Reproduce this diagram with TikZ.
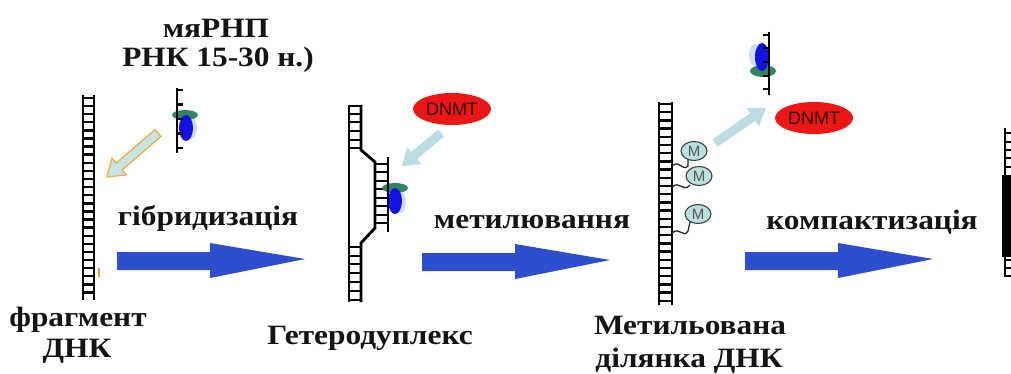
\documentclass[tikz,border=0pt]{standalone}
\usepackage{fontspec}
\setmainfont{Liberation Serif}
\newfontfamily\enzfont{Liberation Sans}
\usetikzlibrary{shapes.geometric,calc}

\definecolor{bigblue}{RGB}{46,78,208}
\definecolor{paleblue}{RGB}{186,220,226}
\definecolor{orangeedge}{RGB}{240,172,70}
\definecolor{enzred}{RGB}{236,22,22}
\definecolor{enztext}{RGB}{48,6,6}
\definecolor{rnpgreen}{RGB}{52,132,96}
\definecolor{rnpblue}{RGB}{18,18,228}
\definecolor{rnphalo}{RGB}{205,222,242}
\definecolor{mfill}{RGB}{186,224,224}

% wide bold serif label
\newcommand{\widetext}[1]{\scalebox{1.12}[1]{#1}}

% flat block arrow: #1 style, #2 tail, #3 tip, #4 shaft half width
\newcommand{\flatarrow}[4]{%
  \coordinate (fa-t1) at ($(#2)!#4!90:(#3)$);
  \coordinate (fa-t2) at ($(#2)!#4!-90:(#3)$);
  \coordinate (fa-b)  at ($(#3)!16pt!(#2)$);
  \coordinate (fa-b1) at ($(fa-b)!#4!-90:(#2)$);
  \coordinate (fa-b2) at ($(fa-b)!#4!90:(#2)$);
  \coordinate (fa-h1) at ($(fa-b)!11pt!-90:(#2)$);
  \coordinate (fa-h2) at ($(fa-b)!11pt!90:(#2)$);
  \path[#1] (fa-t1) -- (fa-b1) -- (fa-h1) -- (#3) -- (fa-h2) -- (fa-b2) -- (fa-t2) -- cycle;
}

% big process arrow starting at the middle of its left end
\newcommand{\procarrow}[1]{%
  \fill[bigblue, shift={(#1)}] (0,-9) -- (93,-9) -- (93,-18) -- (188,-2)
     -- (93,17) -- (93,9) -- (0,9) -- cycle;
}

\tikzset{
  rail/.style={line width=2.9pt, black},
  rung/.style={line width=2.4pt, black},
  strand/.style={line width=2.6pt, black},
  lbl/.style={font=\bfseries\fontsize{28}{30}\selectfont, anchor=base, inner sep=0pt, text=black!92},
  enzyme/.style={ellipse, fill=enzred, inner sep=0pt, minimum width=78pt, minimum height=32pt,
                 font=\enzfont\fontsize{18}{18}\selectfont, text=enztext},
  mgroup/.style={ellipse, draw=black!75, fill=mfill, line width=1.1pt, inner sep=0pt,
                 minimum width=26pt, minimum height=19pt,
                 font=\enzfont\fontsize{15}{15}\selectfont, text=black!65},
  tether/.style={line width=1.3pt, black!85},
}

\begin{document}
\begin{tikzpicture}[x=1pt, y=-1pt]
\useasboundingbox (0,0) rectangle (1011,374);

% ---------- miRNP complex ----------
\node[lbl] (rnp1) at (216,38) {\widetext{мяРНП}};
\node[lbl] (rnp2) at (218,67) {\widetext{РНК 15-30 н.)}};

\fill[rnphalo] (191,128) ellipse (6pt and 11pt);
\fill[rnpgreen] (185,115) ellipse (13pt and 5pt);
\fill[rnpblue] (186,128) ellipse (7pt and 13pt);
\draw[strand] (177,88) -- (177,153);
\foreach \yy in {90,104.5,119,133.5,148}
  \draw[line width=2.2pt] (177,\yy) -- (183,\yy);

% ---------- DNA fragment ----------
\draw[rail] (83,95) -- (83,300);
\draw[rail] (94,95) -- (94,300);
\foreach \yy in {98,106.1,...,295}
  \draw[rung] (83,\yy) -- (94,\yy);
\draw[line width=1.3pt, orangeedge!70!brown] (99,268) -- (99,277);

\node[lbl] (fragA) at (78,326) {\widetext{фрагмент}};
\node[lbl] (fragB) at (77,357) {\widetext{ДНК}};

% hybridization arrow (miRNP onto DNA)
\coordinate (hybT) at (158,133);
\coordinate (hybH) at (107,177);
\flatarrow{fill=paleblue!80!white, draw=orangeedge, line width=1.3pt}{hybT}{hybH}{4.5pt}

\node[lbl] (hyb) at (208,225) {\widetext{гібридизація}};
\coordinate (p1) at (117,261);
\procarrow{p1}

% ---------- heteroduplex ----------
\draw[rail] (349,105) -- (349,302);
\draw[rail] (361,105) -- (361,150) -- (375,162) -- (375,228) -- (361,243) -- (361,302);
\draw[rail] (388,157) -- (388,232);
\foreach \yy in {106,114,122,131,140,148}
  \draw[rung] (349,\yy) -- (361,\yy);
\foreach \yy in {164,172,181,189,198,206,215,223}
  \draw[rung] (375,\yy) -- (388,\yy);
\foreach \yy in {247,256,264,273,282,291,300}
  \draw[rung] (349,\yy) -- (361,\yy);

\fill[rnphalo] (400,202) ellipse (6pt and 11pt);
\fill[rnpgreen] (395,188) ellipse (13pt and 5pt);
\fill[rnpblue] (395,201) ellipse (7pt and 13pt);
\draw[rail] (388,180) -- (388,215);

\node[enzyme] (dnmt1) at (452,109) {DNMT};
\coordinate (dnT1) at (441,133);
\coordinate (dnH1) at (402,166);
\flatarrow{fill=paleblue}{dnT1}{dnH1}{4.5pt}

\node[lbl] (hetero) at (370,344) {\widetext{Гетеродуплекс}};

\node[lbl] (meth) at (532,228) {\widetext{метилювання}};
\coordinate (p2) at (422,262);
\procarrow{p2}

% ---------- methylated DNA ----------
\draw[rail] (659,102) -- (659,305);
\draw[rail] (672,102) -- (672,305);
\foreach \yy in {104,112.2,...,303}
  \draw[rung] (659,\yy) -- (672,\yy);

\draw[tether] (672,166) .. controls (680,159) and (682,172) .. (688,166) -- (688,159);
\draw[tether] (672,187) .. controls (680,180) and (683,193) .. (690,185);
\draw[tether] (672,233) .. controls (680,226) and (683,239) .. (688,231) -- (690,222);
\node[mgroup] (m1) at (694,151) {M};
\node[mgroup] (m2) at (699,176) {M};
\node[mgroup] (m3) at (698,214) {M};

% released miRNP and enzyme
\fill[rnphalo] (755,55) ellipse (6pt and 11pt);
\fill[rnpgreen] (763,71) ellipse (13pt and 6pt);
\fill[rnpblue] (762,57) ellipse (7pt and 14pt);
\draw[strand] (769,32) -- (769,95);
\foreach \yy in {35,48,62,76,89}
  \draw[line width=2.2pt] (769,\yy) -- (763,\yy);

\node[enzyme] (dnmt2) at (814,118) {DNMT};
\coordinate (relT) at (715,143);
\coordinate (relH) at (766,108);
\flatarrow{fill=paleblue}{relT}{relH}{4.5pt}

\node[lbl] (methA) at (690,334) {\widetext{Метильована}};
\node[lbl] (methB) at (689,367) {\widetext{ділянка ДНК}};

\node[lbl] (compact) at (872,229) {\widetext{компактизація}};
\coordinate (p3) at (745,261);
\procarrow{p3}

% ---------- compacted chromatin ----------
\draw[rail] (1005,128) -- (1005,277);
\foreach \yy in {133,142,150,158,167,260,268,276}
  \draw[rung] (1005,\yy) -- (1012,\yy);
\fill[black] (1002,175) rectangle (1012,257);
\end{tikzpicture}
\end{document}
